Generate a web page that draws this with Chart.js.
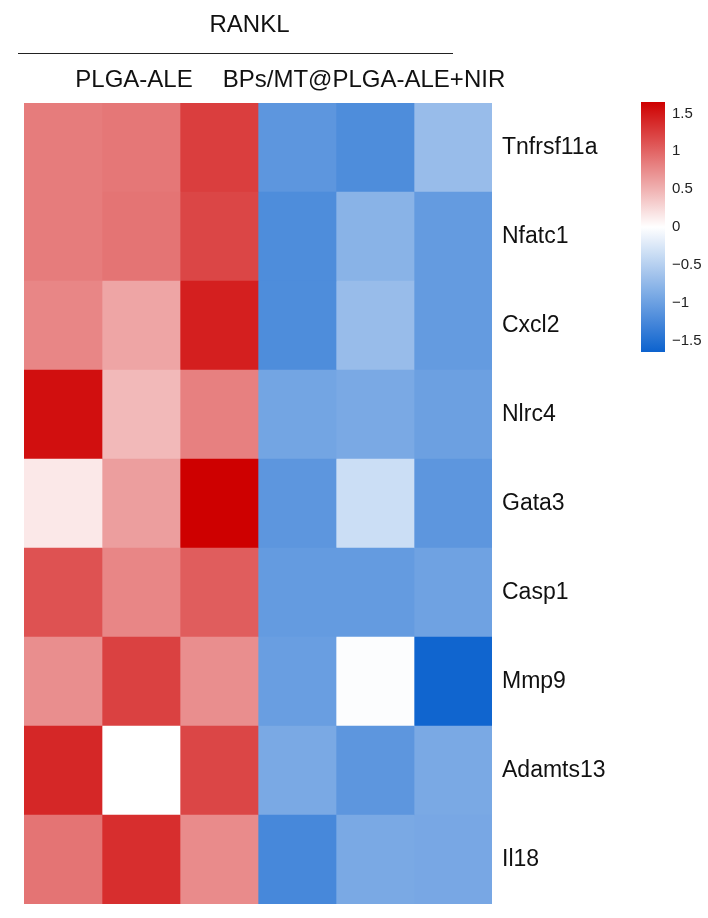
<!DOCTYPE html>
<html>
<head>
<meta charset="utf-8">
<script src="https://cdn.jsdelivr.net/npm/chart.js@4/dist/chart.umd.min.js"></script>
<style>
  html, body { margin: 0; padding: 0; background: #ffffff; }
  #wrap { width: 708px; height: 918px; position: relative; }
</style>
</head>
<body>
<div id="wrap"><canvas id="heat" width="708" height="918"></canvas></div>
<script>
// Genes (rows, top to bottom)
const genes = ['Tnfrsf11a', 'Nfatc1', 'Cxcl2', 'Nlrc4', 'Gata3', 'Casp1', 'Mmp9', 'Adamts13', 'Il18'];

// Treatment groups shown above the columns
const treatment = 'RANKL';
const groups = ['PLGA-ALE', 'BPs/MT@PLGA-ALE+NIR'];

// Row z-scores, one array per sample (column), in gene order
const plgaAle1 = [0.85, 0.85, 0.78, 1.55, 0.15, 1.12, 0.73, 1.40, 0.90];
const plgaAle2 = [0.88, 0.90, 0.58, 0.45, 0.63, 0.78, 1.23, 0.00, 1.35];
const plgaAle3 = [1.25, 1.20, 1.45, 0.82, 1.65, 1.05, 0.73, 1.20, 0.75];
const nir1     = [-1.10, -1.20, -1.20, -0.95, -1.10, -1.05, -1.02, -0.90, -1.25];
const nir2     = [-1.20, -0.80, -0.70, -0.90, -0.35, -1.05, -0.02, -1.10, -0.90];
const nir3     = [-0.70, -1.05, -1.05, -1.00, -1.10, -0.98, -1.62, -0.90, -0.92];

const samples = [plgaAle1, plgaAle2, plgaAle3, nir1, nir2, nir3];

// Colour key ticks
const keyTicks = [1.5, 1, 0.5, 0, -0.5, -1, -1.5];
const keyLimit = 1.65;

// Diverging blue - white - red scale
const hiRGB = [206, 0, 0];
const loRGB = [12, 98, 206];
function zColor(v) {
  const t = Math.max(-1, Math.min(1, v / keyLimit));
  const end = t >= 0 ? hiRGB : loRGB;
  const a = Math.abs(t);
  const c = end.map(e => Math.round(255 + (e - 255) * a));
  return `rgb(${c[0]},${c[1]},${c[2]})`;
}

// Each sample is a column of floating bars spanning [k, k+1] on x
const datasets = samples.map((vals, k) => ({
  label: 'sample ' + (k + 1),
  data: genes.map(() => [k, k + 1]),
  backgroundColor: vals.map(zColor),
  borderWidth: 0,
  grouped: false,
  barPercentage: 1,
  categoryPercentage: 1
}));

const fontFam = '"Liberation Sans", Arial, Helvetica, sans-serif';

// Column headers, treatment line and colour key
const annotations = {
  id: 'annotations',
  afterDraw(chart) {
    const ctx = chart.ctx;
    const xs = chart.scales.x;
    ctx.save();
    ctx.fillStyle = '#111';
    ctx.textBaseline = 'middle';
    ctx.textAlign = 'center';
    ctx.font = '24px ' + fontFam;

    // treatment title and rule
    const left = xs.getPixelForValue(0) - 6;
    const right = xs.getPixelForValue(5.5);
    ctx.fillText(treatment, (left + right) / 2 + 14, 25);
    ctx.strokeStyle = '#222';
    ctx.lineWidth = 1;
    ctx.beginPath();
    ctx.moveTo(left, 53.5);
    ctx.lineTo(right, 53.5);
    ctx.stroke();

    // group labels
    ctx.fillText(groups[0], xs.getPixelForValue(1.5) - 7, 80);
    ctx.fillText(groups[1], xs.getPixelForValue(4.5) - 11, 80);

    // colour key
    const kx = 641, kw = 24, ky0 = 102, ky1 = 352;
    const yOf = v => ky0 + (keyLimit - v) / (2 * keyLimit) * (ky1 - ky0);
    const grad = ctx.createLinearGradient(0, ky0, 0, ky1);
    for (let i = 0; i <= 20; i++) {
      const v = keyLimit - i * (2 * keyLimit) / 20;
      grad.addColorStop(i / 20, zColor(v));
    }
    ctx.fillStyle = grad;
    ctx.fillRect(kx, ky0, kw, ky1 - ky0);

    ctx.fillStyle = '#222';
    ctx.textAlign = 'left';
    ctx.font = '15px ' + fontFam;
    keyTicks.forEach(v => {
      const txt = v < 0 ? '\u2212' + String(-v) : String(v);
      ctx.fillText(txt, kx + kw + 7, yOf(v));
    });
    ctx.restore();
  }
};

new Chart(document.getElementById('heat'), {
  type: 'bar',
  data: { labels: genes, datasets },
  options: {
    indexAxis: 'y',
    responsive: false,
    animation: false,
    layout: { padding: { left: 24, top: 103, bottom: 14, right: 0 } },
    plugins: { legend: { display: false }, tooltip: { enabled: false } },
    scales: {
      x: {
        type: 'linear',
        min: 0,
        max: samples.length,
        display: false
      },
      y: {
        type: 'category',
        position: 'right',
        grid: { display: false, drawTicks: false },
        border: { display: false },
        ticks: {
          padding: 10,
          color: '#111',
          font: { family: fontFam, size: 23 }
        },
        afterFit(scale) {
          scale.width = 216;
          scale.paddingTop = 0;
          scale.paddingBottom = 0;
        }
      }
    }
  },
  plugins: [annotations]
});
</script>
</body>
</html>
